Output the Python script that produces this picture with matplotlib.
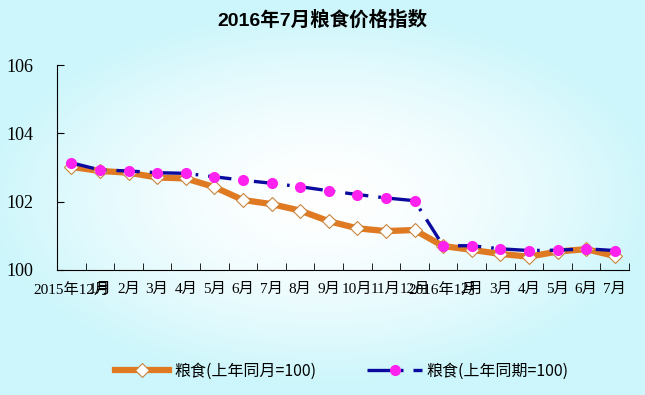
import numpy as np
import matplotlib.pyplot as plt

plt.rcParams['font.family'] = ['Liberation Serif', 'Noto Sans CJK SC']

months = ['2015年12月', '1月', '2月', '3月', '4月', '5月', '6月', '7月', '8月', '9月',
          '10月', '11月', '12月', '2016年1月', '2月', '3月', '4月', '5月', '6月', '7月']

# 粮食(上年同月=100)
yoy = [103.02, 102.90, 102.85, 102.71, 102.68, 102.43, 102.05, 101.93, 101.74, 101.43,
       101.22, 101.14, 101.17, 100.70, 100.59, 100.47, 100.39, 100.54, 100.61, 100.41]
# 粮食(上年同期=100)
ytd = [103.14, 102.93, 102.90, 102.85, 102.83, 102.73, 102.63, 102.54, 102.44, 102.32,
       102.21, 102.11, 102.03, 100.71, 100.71, 100.62, 100.57, 100.58, 100.62, 100.57]

fig = plt.figure(figsize=(6.45, 3.95), dpi=100)

# radial background: white centre, light cyan edges
bg = fig.add_axes([0, 0, 1, 1], zorder=-10)
gx, gy = np.meshgrid(np.linspace(-1, 1, 300), np.linspace(-1, 1, 200))
r = np.clip(np.sqrt((gx * 0.95) ** 2 + (gy * 1.05) ** 2), 0, 1)
edge = np.array([0.80, 0.965, 0.985])
centre = np.array([1.0, 1.0, 1.0])
img = centre + (edge - centre) * (r[..., None] ** 1.6)
bg.imshow(img, aspect='auto', extent=[0, 1, 0, 1])
bg.axis('off')

ax = fig.add_axes([0.0884, 0.3165, 0.8868, 0.5186])
ax.patch.set_alpha(0)
x = np.arange(len(months))

ax.plot(x, yoy, color='#E07A22', lw=4.5, marker='D', ms=7, mfc='white',
        mec='#C8843C', mew=0.8, label='粮食(上年同月=100)', zorder=3)
ax.plot(x, ytd, color='#0A0A9E', lw=2.4, dashes=(7, 3, 0.8, 3), marker='o', ms=7,
        mfc='#FF22EE', mec='#FF22EE', label='粮食(上年同期=100)', zorder=4)

ax.set_xlim(-0.5, len(months) - 0.5)
ax.set_ylim(100, 106)
ax.set_yticks([100, 102, 104, 106])
ax.tick_params(axis='y', direction='in', length=5, labelsize=13, pad=17)
ax.set_xticks(x)
ax.set_xticklabels(months, fontsize=11)
ax.set_xticks(np.arange(len(months)) + 0.5, minor=True)
ax.tick_params(axis='x', which='major', length=0, pad=9)
ax.tick_params(axis='x', which='minor', direction='in', length=5)
for s in ['top', 'right']:
    ax.spines[s].set_visible(False)

fig.suptitle('2016年7月粮食价格指数', x=0.5, y=0.975, fontsize=14, fontweight='bold',
             family=['Liberation Sans', 'Noto Sans CJK SC'])

fig.legend(loc='center', bbox_to_anchor=(0.53, 0.06), ncol=2, frameon=False,
           handlelength=3.4, columnspacing=3.2, handletextpad=0.3,
           prop={'family': ['Noto Sans CJK SC'], 'size': 11.5})

fig.savefig('out.png', dpi=100)
